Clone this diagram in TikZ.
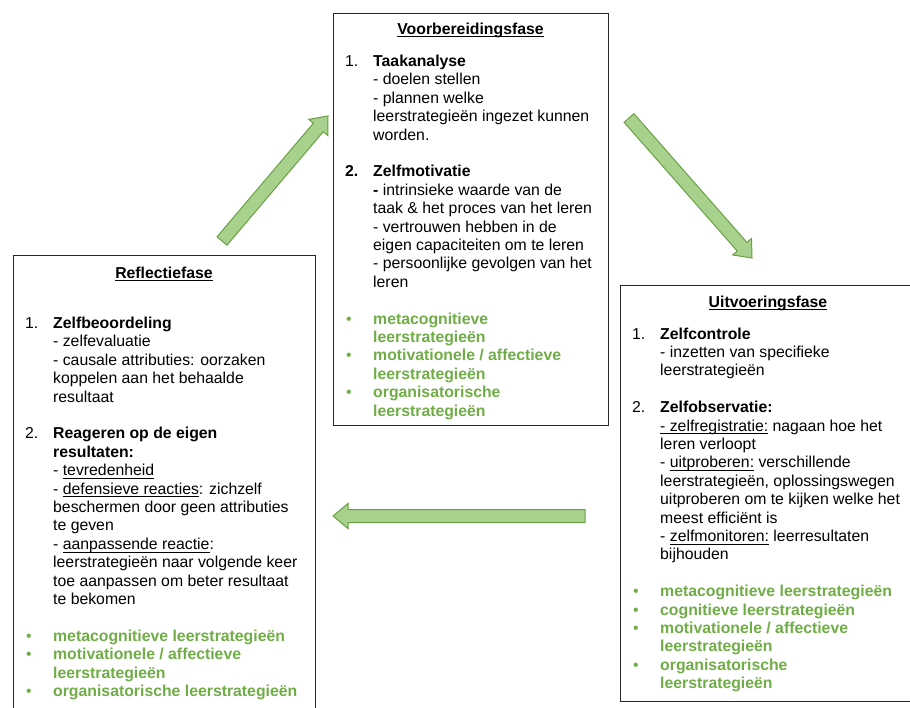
\documentclass[tikz,border=0pt]{standalone}
\usepackage{fontspec}
\setmainfont{Liberation Sans}
\usetikzlibrary{calc}

\definecolor{leafgreen}{HTML}{70AD47}
\definecolor{arrowfill}{HTML}{A9D18E}
\definecolor{arrowedge}{HTML}{6AA043}

% underline at a fixed depth below the baseline
\newcommand\ulx[1]{\setbox0=\hbox{#1}\rlap{\rule[-3.2pt]{\wd0}{0.9pt}}\box0\relax}
\newcommand\ulbold[1]{\setbox0=\hbox{#1}\rlap{\rule[-3.4pt]{\wd0}{1.2pt}}\box0\relax}
% list label, continuation indent, green bullet and green bold text
\newcommand\lbl[1]{\makebox[28pt][l]{#1}}
\newcommand\ind{\hspace*{28pt}}
\newcommand\gb{\makebox[28pt][l]{\hspace{1pt}\textcolor{leafgreen}{\textbullet}}}
\newcommand\gt[1]{\textcolor{leafgreen}{\bfseries #1}}

% block arrow from tail #1 to tip #2
\newcommand\blockarrow[2]{%
  \coordinate (#1-#2-h) at ($(#2)!15pt!(#1)$);
  \draw[blockarrow]
    ($(#1)!6.5pt!90:(#2)$) -- ($(#1-#2-h)!6.5pt!90:(#2)$)
    -- ($(#1-#2-h)!12.5pt!90:(#2)$) -- (#2)
    -- ($(#1-#2-h)!12.5pt!-90:(#2)$) -- ($(#1-#2-h)!6.5pt!-90:(#2)$)
    -- ($(#1)!6.5pt!-90:(#2)$) -- cycle;}

\begin{document}
\begin{tikzpicture}[x=1pt,y=-1pt,
  phasebox/.style={draw=black!85, line width=1.1pt, inner sep=0pt, anchor=north west},
  phasetitle/.style={font=\fontsize{15.8pt}{18.4pt}\selectfont\bfseries, anchor=base, inner sep=0pt},
  body/.style={font=\fontsize{15.8pt}{18.4pt}\selectfont, align=left, anchor=north west, inner sep=0pt},
  blockarrow/.style={fill=arrowfill, draw=arrowedge, line width=1pt, line join=miter}]

\clip (0,0) rectangle (910,707);
\useasboundingbox (0,0) rectangle (910,707);
\fill[white] (0,0) rectangle (910,707);

% the three phase boxes
\node[phasebox, minimum width=275pt, minimum height=412pt] (prep) at (333,13) {};
\node[phasebox, minimum width=302pt, minimum height=470pt] (refl) at (13,255) {};
\node[phasebox, minimum width=296pt, minimum height=416pt] (exec) at (620,285) {};

% titles
\node[phasetitle] (preptitle) at (470.5,34) {\ulbold{Voorbereidingsfase}};
\node[phasetitle] (refltitle) at (164,278) {\ulbold{Reflectiefase}};
\node[phasetitle] (exectitle) at (768,307) {\ulbold{Uitvoeringsfase}};

% forethought phase
\node[body] (preptext) at (345,53.5) {%
\strut\lbl{1.}\textbf{Taakanalyse}\\
\ind- doelen stellen\\
\ind- plannen welke\\
\ind leerstrategieën ingezet kunnen\\
\ind worden.\\[18.4pt]
\lbl{\textbf{2.}}\textbf{Zelfmotivatie}\\
\ind\textbf{-} intrinsieke waarde van de\\
\ind taak \& het proces van het leren\\
\ind- vertrouwen hebben in de\\
\ind eigen capaciteiten om te leren\\
\ind- persoonlijke gevolgen van het\\
\ind leren\\[18.4pt]
\gb\gt{metacognitieve}\\
\ind\gt{leerstrategieën}\\
\gb\gt{motivationele / affectieve}\\
\ind\gt{leerstrategieën}\\
\gb\gt{organisatorische}\\
\ind\gt{leerstrategieën}};

% reflection phase
\node[body] (refltext) at (25,315.5) {%
\strut\lbl{1.}\textbf{Zelfbeoordeling}\\
\ind- zelfevaluatie\\
\ind- causale attributies: oorzaken\\
\ind koppelen aan het behaalde\\
\ind resultaat\\[18.4pt]
\lbl{2.}\textbf{Reageren op de eigen}\\
\ind\textbf{resultaten:}\\
\ind- \ulx{tevredenheid}\\
\ind- \ulx{defensieve reacties}: zichzelf\\
\ind beschermen door geen attributies\\
\ind te geven\\
\ind- \ulx{aanpassende reactie}:\\
\ind leerstrategieën naar volgende keer\\
\ind toe aanpassen om beter resultaat\\
\ind te bekomen\\[18.4pt]
\gb\gt{metacognitieve leerstrategieën}\\
\gb\gt{motivationele / affectieve}\\
\ind\gt{leerstrategieën}\\
\gb\gt{organisatorische leerstrategieën}};

% performance phase
\node[body] (exectext) at (632,326) {%
\strut\lbl{1.}\textbf{Zelfcontrole}\\
\ind- inzetten van specifieke\\
\ind leerstrategieën\\[18.4pt]
\lbl{2.}\textbf{Zelfobservatie:}\\
\ind\ulx{- zelfregistratie:} nagaan hoe het\\
\ind leren verloopt\\
\ind- \ulx{uitproberen:} verschillende\\
\ind leerstrategieën, oplossingswegen\\
\ind uitproberen om te kijken welke het\\
\ind meest efficiënt is\\
\ind- \ulx{zelfmonitoren:} leerresultaten\\
\ind bijhouden\\[18.4pt]
\gb\gt{metacognitieve leerstrategieën}\\
\gb\gt{cognitieve leerstrategieën}\\
\gb\gt{motivationele / affectieve}\\
\ind\gt{leerstrategieën}\\
\gb\gt{organisatorische}\\
\ind\gt{leerstrategieën}};

% cycle arrows between the phases
\coordinate (reflout) at (222,241);
\coordinate (prepin) at (328,116);
\coordinate (prepout) at (629,118);
\coordinate (execin) at (752,258);
\coordinate (execout) at (585,516);
\coordinate (reflin) at (333,516);
\blockarrow{reflout}{prepin}
\blockarrow{prepout}{execin}
\blockarrow{execout}{reflin}

\end{tikzpicture}
\end{document}
